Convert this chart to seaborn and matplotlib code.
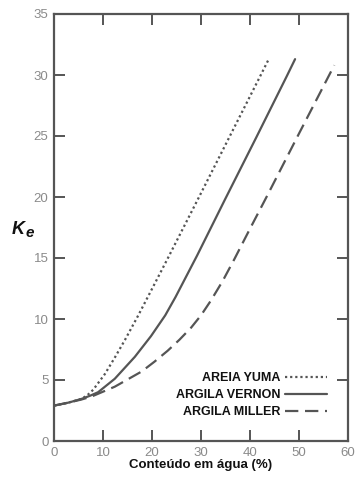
import matplotlib
matplotlib.use("Agg")
import matplotlib.pyplot as plt
import seaborn as sns
import pandas as pd

# ---- data ----
yuma_x = [0, 3, 5.6, 6.8, 8.0, 10.4, 12.5, 14.5, 17.2, 20.3, 23.0, 29.6, 35.9, 42.2, 43.7]
yuma_y = [2.9, 3.15, 3.45, 3.75, 4.2, 5.5, 6.9, 8.3, 10.3, 12.7, 14.8, 20.0, 25.0, 30.0, 31.2]

vernon_x = [0, 3, 5.6, 7.3, 9.0, 12.4, 16.5, 19.8, 22.7, 24.8, 27.0, 29.2, 34.9, 41.3, 47.5, 49.2]
vernon_y = [2.9, 3.15, 3.45, 3.7, 4.0, 5.1, 6.9, 8.6, 10.3, 11.8, 13.5, 15.2, 19.8, 24.9, 29.9, 31.3]

miller_x = [0, 3, 5.6, 7.7, 12.4, 17.9, 20.5, 23.2, 25.6, 28.0, 30.0, 32.0, 34.4, 36.8,
            40.0, 43.5, 50.0, 56.3, 57.2]
miller_y = [2.9, 3.15, 3.4, 3.65, 4.45, 5.7, 6.5, 7.4, 8.3, 9.3, 10.3, 11.5, 13.1, 14.9,
            17.4, 20.1, 25.2, 30.1, 30.8]

series_names = ["AREIA YUMA", "ARGILA VERNON", "ARGILA MILLER"]
x_ticks = [0, 10, 20, 30, 40, 50, 60]
y_ticks = [0, 5, 10, 15, 20, 25, 30, 35]
x_label = "Conteúdo em água (%)"

df = pd.concat([
    pd.DataFrame({"x": yuma_x, "y": yuma_y, "s": series_names[0]}),
    pd.DataFrame({"x": vernon_x, "y": vernon_y, "s": series_names[1]}),
    pd.DataFrame({"x": miller_x, "y": miller_y, "s": series_names[2]}),
], ignore_index=True)

sns.set_theme(style="white")
plt.rcParams['font.family'] = ['Liberation Sans', 'DejaVu Sans']

fig = plt.figure(figsize=(3.57, 4.79), dpi=100)
ax = fig.add_axes([54/357, 38/479, 294/357, 427/479])

line_col = "#555555"
sns.lineplot(data=df, x="x", y="y", hue="s", style="s",
             palette={n: line_col for n in series_names},
             dashes={series_names[0]: (1, 1.3), series_names[1]: "",
                     series_names[2]: (6, 3)},
             linewidth=1.6, sort=False, estimator=None, ax=ax, legend=True)

ax.set_xlim(0, 60)
ax.set_ylim(0, 35)
ax.set_xticks(x_ticks)
ax.set_yticks(y_ticks)
ax.set_xlabel(x_label, fontsize=9.5, fontweight="bold", color="#111111", labelpad=0.5)
ax.set_ylabel("")

for sp in ax.spines.values():
    sp.set_color("#555555")
    sp.set_linewidth(1.6)
    sp.set_visible(True)

ax.tick_params(axis="both", which="both", direction="in", length=8, width=1.4,
               color="#555555", labelcolor="#8a8a8a", labelsize=9.5,
               top=True, right=True, bottom=True, left=True)
ax.tick_params(axis="x", pad=4)
ax.tick_params(axis="y", pad=4)

# Ke label
fig.text(12/357, 1 - 230/479, "K", fontsize=13, fontweight="bold", style="italic",
         va="center", ha="left", color="#111111")
fig.text(26/357, 1 - 233/479, "e", fontsize=11, fontweight="bold", style="italic",
         va="center", ha="left", color="#111111")

handles, labels = ax.get_legend_handles_labels()
leg = ax.legend(handles, labels, loc="lower right",
                bbox_to_anchor=((327 - 54) / 294, (441 - 418) / 427),
                frameon=False, markerfirst=False, handlelength=3.4,
                handletextpad=0.3, labelspacing=0.4, borderaxespad=0,
                borderpad=0, prop={"weight": "bold", "size": 9})
for t in leg.get_texts():
    t.set_color("#111111")

fig.savefig("out.png", dpi=100)
